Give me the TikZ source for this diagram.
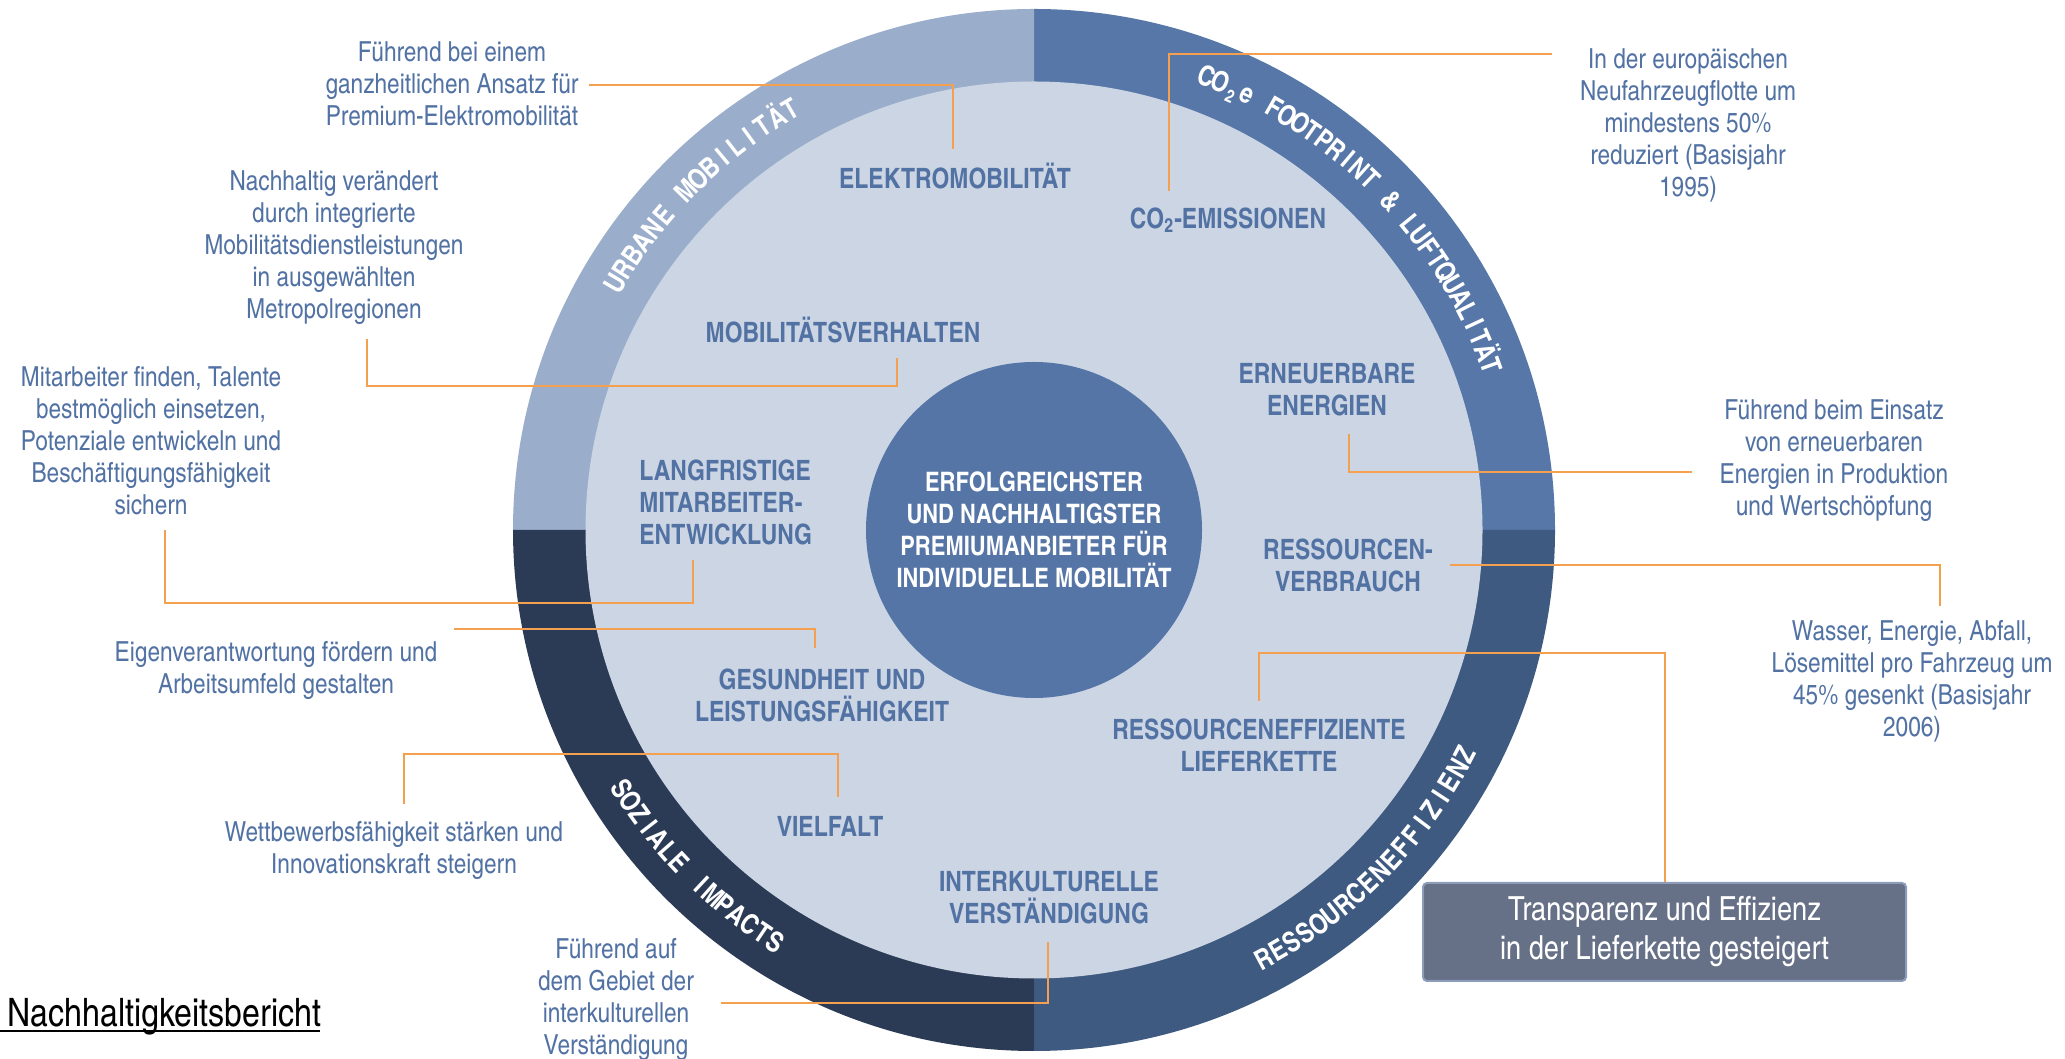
\documentclass[tikz,border=0pt]{standalone}
\usepackage{fontspec}
\setmainfont{texgyreheroscn}[Extension=.otf, UprightFont=*-regular, BoldFont=*-bold, ItalicFont=*-italic, BoldItalicFont=*-bolditalic]
\definecolor{ringUL}{HTML}{9AADCB}
\definecolor{ringUR}{HTML}{5677A7}
\definecolor{ringLR}{HTML}{3F5A80}
\definecolor{ringLL}{HTML}{2C3B55}
\definecolor{lightc}{HTML}{CBD5E3}
\definecolor{corec}{HTML}{5575A6}
\definecolor{labelc}{HTML}{5272A4}
\definecolor{orangec}{HTML}{F4A04F}
\definecolor{boxfill}{HTML}{667087}
\definecolor{boxedge}{HTML}{8D9CB9}
\newcommand\ringsize{\fontsize{14}{15}\selectfont}
\tikzset{
  inlabel/.style={font=\bfseries\fontsize{14}{16}\selectfont, text=labelc, align=center, inner sep=2pt},
  outtext/.style={font=\fontsize{13.8}{16}\selectfont, text=labelc, align=center, inner sep=3pt},
  conn/.style={draw=orangec, line width=1pt},
  ringtxt/.style={text=white, inner sep=0pt, anchor=base},
  boxst/.style={rectangle, rounded corners=2pt, fill=boxfill, draw=boxedge, line width=1pt, minimum width=241.5pt, minimum height=49pt, text=white, align=center, font=\fontsize{16.6}{19.5}\selectfont},
  corest/.style={circle, fill=corec, minimum size=168pt, inner sep=0pt, text=white, align=center, font=\bfseries\fontsize{13.4}{16}\selectfont}
}
\begin{document}
\begin{tikzpicture}[x=0.5pt,y=0.5pt]
\useasboundingbox (0,0) rectangle (2065,1059);
\coordinate (C) at (1034,529);
\begin{scope}[shift={(1034,529)}]
  \fill[ringUR] (0,0) -- (0:521) arc[start angle=0, end angle=90, radius=521] -- cycle;
  \fill[ringUL] (0,0) -- (90:521) arc[start angle=90, end angle=180, radius=521] -- cycle;
  \fill[ringLL] (0,0) -- (180:521) arc[start angle=180, end angle=270, radius=521] -- cycle;
  \fill[ringLR] (0,0) -- (270:521) arc[start angle=270, end angle=360, radius=521] -- cycle;
  \fill[lightc] (0,0) circle[radius=448.5];
  % ring labels
  \foreach \ch [count=\i from 0] in {U,R,B,A,N,E,{},M,O,B,I,L,I,T,Ä,T}{
    \pgfmathsetmacro\ang{149.5-\i*1.967}
    \pgfmathsetmacro\rot{\ang-90}
    \node[ringtxt, rotate=\rot] (urb\i) at (\ang:476) {\bfseries\ringsize\ch};
  }
  \foreach \ch [count=\i from 0] in {C,O,{\raisebox{-3.5pt}{\fontsize{9}{10}\selectfont 2}},e,{},F,O,O,T,P,R,I,N,T,{},{\&},{},L,U,F,T,Q,U,A,L,I,T,Ä,T}{
    \pgfmathsetmacro\ang{69.2-\i*1.768}
    \pgfmathsetmacro\rot{\ang-90}
    \node[ringtxt, rotate=\rot] (co\i) at (\ang:476) {\bfseries\ringsize\ch};
  }
  \foreach \ch [count=\i from 0] in {S,O,Z,I,A,L,E,{},I,M,P,A,C,T,S}{
    \pgfmathsetmacro\ang{212.1+\i*1.843}
    \pgfmathsetmacro\rot{\ang+90}
    \node[ringtxt, rotate=\rot] (soz\i) at (\ang:496) {\bfseries\ringsize\ch};
  }
  \foreach \ch [count=\i from 0] in {R,E,S,S,O,U,R,C,E,N,E,F,F,I,Z,I,E,N,Z}{
    \pgfmathsetmacro\ang{-61.8+\i*1.906}
    \pgfmathsetmacro\rot{\ang+90}
    \node[ringtxt, rotate=\rot] (res\i) at (\ang:496) {\bfseries\ringsize\ch};
  }
\end{scope}
\node[corest] (core) at (1034,529) {ERFOLGREICHSTER\\UND NACHHALTIGSTER\\PREMIUMANBIETER FÜR\\INDIVIDUELLE MOBILITÄT};

% inner labels
\node[inlabel] (elektro) at (955,883) {ELEKTROMOBILITÄT};
\node[inlabel] (co2em) at (1228,839) {CO\textsubscript{2}-EMISSIONEN};
\node[inlabel] (mobverh) at (843,729) {MOBILITÄTSVERHALTEN};
\node[inlabel] (erneu) at (1327,669) {ERNEUERBARE\\ENERGIEN};
\node[inlabel, align=left, anchor=west] (langfr) at (635,557) {LANGFRISTIGE\\MITARBEITER-\\ENTWICKLUNG};
\node[inlabel] (ressv) at (1348,494) {RESSOURCEN-\\VERBRAUCH};
\node[inlabel] (gesund) at (822,364) {GESUNDHEIT UND\\LEISTUNGSFÄHIGKEIT};
\node[inlabel] (vielfalt) at (830,233) {VIELFALT};
\node[inlabel] (resseff) at (1259,314) {RESSOURCENEFFIZIENTE\\LIEFERKETTE};
\node[inlabel] (interk) at (1049,161) {INTERKULTURELLE\\VERSTÄNDIGUNG};

% outer texts
\node[outtext] (t_elek) at (452,975) {Führend bei einem\\ganzheitlichen Ansatz für\\Premium-Elektromobilität};
\node[outtext] (t_mob) at (334,811) {Nachhaltig verändert\\durch integrierte\\Mobilitätsdienstleistungen\\in ausgewählten\\Metropolregionen};
\node[outtext] (t_mit) at (151,618) {Mitarbeiter finden, Talente\\bestmöglich einsetzen,\\Potenziale entwickeln und\\Beschäftigungsfähigkeit\\sichern};
\node[outtext] (t_co2) at (1688,934) {In der europäischen\\Neufahrzeugflotte um\\mindestens 50\%\\reduziert (Basisjahr\\1995)};
\node[outtext] (t_ern) at (1834,598) {Führend beim Einsatz\\von erneuerbaren\\Energien in Produktion\\und Wertschöpfung};
\node[outtext] (t_eig) at (276,389) {Eigenverantwortung fördern und\\Arbeitsumfeld gestalten};
\node[outtext] (t_wett) at (394,209) {Wettbewerbsfähigkeit stärken und\\Innovationskraft steigern};
\node[outtext] (t_int) at (616,60) {Führend auf\\dem Gebiet der\\interkulturellen\\Verständigung};
\node[outtext] (t_was) at (1912,378) {Wasser, Energie, Abfall,\\Lösemittel pro Fahrzeug um\\45\% gesenkt (Basisjahr\\2006)};
\node[boxst] (box) at (1664.5,127) {Transparenz und Effizienz\\in der Lieferkette gesteigert};
\node[anchor=base west, inner sep=0pt, font=\fontsize{19.6}{22}\selectfont, text=black] (bericht) at (7,32) {Nachhaltigkeitsbericht};
\coordinate (ul1) at (0,28);
\coordinate (ul2) at (320,28);
\draw[black, line width=1.2pt] (ul1) -- (ul2);

% connectors
\coordinate (a1) at (589,974);  \coordinate (b1) at (953,910);
\coordinate (a2) at (367,720);  \coordinate (b2) at (897,701);
\coordinate (a3) at (165,529);  \coordinate (b3) at (693,499);
\coordinate (a4) at (454,430);  \coordinate (b4) at (815,411);
\coordinate (a5) at (404,255);  \coordinate (b5) at (838,262);
\coordinate (a6) at (721,56);   \coordinate (b6) at (1048,117);
\coordinate (a7) at (1169,868); \coordinate (b7) at (1552,1005);
\coordinate (a8) at (1349,625); \coordinate (b8) at (1692,587);
\coordinate (a9) at (1450,494); \coordinate (b9) at (1940,453);
\coordinate (a10) at (1259,358);
\draw[conn] (a1) -| (b1);
\draw[conn] (a2) -- ++(0,-47) -| (b2);
\draw[conn] (a3) -- ++(0,-73) -| (b3);
\draw[conn] (a4) -| (b4);
\draw[conn] (a5) -- ++(0,50) -| (b5);
\draw[conn] (a6) -| (b6);
\draw[conn] (a7) |- (b7);
\draw[conn] (a8) |- (b8);
\draw[conn] (a9) -| (b9);
\draw[conn] (a10) -- ++(0,48) -| (box.north);
\end{tikzpicture}
\end{document}
